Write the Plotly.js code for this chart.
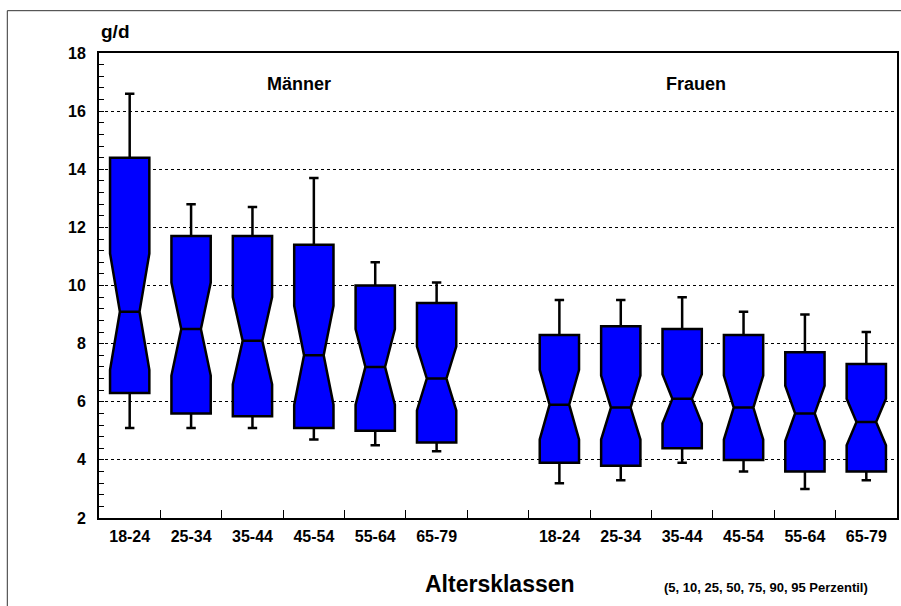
<!DOCTYPE html>
<html><head><meta charset="utf-8">
<script src="https://cdn.plot.ly/plotly-3.0.1.min.js"></script>
<style>html,body{margin:0;padding:0;background:#fff}</style>
</head><body><div id="chart" style="width:901px;height:606px"></div>
<script>
// ---- data ----
const ageClasses = ['18-24','25-34','35-44','45-54','55-64','65-79'];
const groups = ['Männer','Frauen'];
const menLower  = [5.1, 5.1, 5.1, 4.7, 4.5, 4.3];
const menQ1     = [6.3, 5.6, 5.5, 5.1, 5.0, 4.6];
const menMedian = [9.1, 8.5, 8.1, 7.6, 7.2, 6.8];
const menQ3     = [14.4, 11.7, 11.7, 11.4, 10.0, 9.4];
const menUpper  = [16.6, 12.8, 12.7, 13.7, 10.8, 10.1];
const menNotch  = [2.0, 1.6, 1.5, 1.7, 1.3, 1.1];
const womenLower  = [3.2, 3.3, 3.9, 3.6, 3.0, 3.3];
const womenQ1     = [3.9, 3.8, 4.4, 4.0, 3.6, 3.6];
const womenMedian = [5.9, 5.8, 6.1, 5.8, 5.6, 5.3];
const womenQ3     = [8.3, 8.6, 8.5, 8.3, 7.7, 7.3];
const womenUpper  = [9.5, 9.5, 9.6, 9.1, 9.0, 8.4];
const womenNotch  = [1.2, 1.1, 0.85, 1.1, 0.95, 0.8];
const yUnit = 'g/d';
const xTitle = 'Altersklassen';
const percentileNote = '(5, 10, 25, 50, 75, 90, 95 Perzentil)';

// ---- positions (one empty slot between the groups) ----
const n = ageClasses.length;
const menX = ageClasses.map((_, i) => i);
const womenX = ageClasses.map((_, i) => i + n + 1);
const allX = menX.concat(womenX);
const allLabels = ageClasses.concat(ageClasses);
const boundaries = [];
for (let i = 0; i < 2 * n; i++) boundaries.push(i + 0.5);

const FONT = 'Liberation Sans, Arial, Helvetica, sans-serif';
const boxStyle = {
  type: 'box', notched: true, notchwidth: 0.25, width: 0.64, whiskerwidth: 0.24,
  fillcolor: '#0000ff', line: {color: '#000', width: 2.5}, boxpoints: false,
  showlegend: false, hoverinfo: 'skip'
};
const traces = [
  Object.assign({}, boxStyle, {name: groups[0], x: menX, q1: menQ1, median: menMedian, q3: menQ3,
    lowerfence: menLower, upperfence: menUpper, notchspan: menNotch}),
  Object.assign({}, boxStyle, {name: groups[1], x: womenX, q1: womenQ1, median: womenMedian, q3: womenQ3,
    lowerfence: womenLower, upperfence: womenUpper, notchspan: womenNotch})
];

const layout = {
  width: 901, height: 606,
  margin: {l: 99, r: 4, t: 53, b: 88},
  paper_bgcolor: '#fff', plot_bgcolor: '#fff',
  font: {family: FONT, color: '#000'},
  boxmode: 'overlay',
  xaxis: {
    range: [-0.5, 2 * n + 0.5], tickmode: 'array', tickvals: allX, ticktext: allLabels,
    ticks: '', showgrid: false, zeroline: false,
    showline: true, linecolor: '#000', linewidth: 2, mirror: true,
    tickfont: {family: FONT, size: 16, weight: 'bold', color: '#000'},
    ticklabelstandoff: 3,
    minor: {tickmode: 'array', tickvals: boundaries, ticks: 'inside', ticklen: 8, tickwidth: 1, tickcolor: '#000', showgrid: false}
  },
  yaxis: {
    range: [2, 18], dtick: 2, tick0: 2, ticks: 'inside', ticklen: 5, tickwidth: 1, tickcolor: '#000',
    showgrid: true, gridcolor: '#000', gridwidth: 1, griddash: 'dot', zeroline: false,
    showline: true, linecolor: '#000', linewidth: 2, mirror: true,
    tickfont: {family: FONT, size: 16, weight: 'bold', color: '#000'},
    ticklabelstandoff: 8,
    minor: {dtick: 0.4, tick0: 2, ticks: 'inside', ticklen: 5, tickwidth: 1, tickcolor: '#000', showgrid: false}
  },
  shapes: [
    {type: 'rect', xref: 'paper', yref: 'paper', x0: -0.1149, x1: 1.03, y0: -0.22, y1: 1.091,
     line: {color: '#333', width: 1}, fillcolor: 'rgba(0,0,0,0)', layer: 'below'}
  ],
  annotations: [
    {text: yUnit, xref: 'paper', yref: 'paper', x: 0.0207, y: 1.047, showarrow: false,
     xanchor: 'center', yanchor: 'middle', font: {family: FONT, size: 19, weight: 'bold'}},
    {text: groups[0], xref: 'x', yref: 'y', x: 2.76, y: 16.94, showarrow: false,
     xanchor: 'center', yanchor: 'middle', font: {family: FONT, size: 18, weight: 'bold'}},
    {text: groups[1], xref: 'x', yref: 'y', x: 9.22, y: 16.94, showarrow: false,
     xanchor: 'center', yanchor: 'middle', font: {family: FONT, size: 18, weight: 'bold'}},
    {text: xTitle, xref: 'paper', yref: 'paper', x: 0.5025, y: -0.142, showarrow: false,
     xanchor: 'center', yanchor: 'middle', font: {family: FONT, size: 23, weight: 'bold'}},
    {text: percentileNote, xref: 'paper', yref: 'paper', x: 0.8355, y: -0.1495, showarrow: false,
     xanchor: 'center', yanchor: 'middle', font: {family: FONT, size: 13, weight: 'bold'}}
  ]
};
Plotly.newPlot('chart', traces, layout, {staticPlot: true, displayModeBar: false});
</script></body></html>
